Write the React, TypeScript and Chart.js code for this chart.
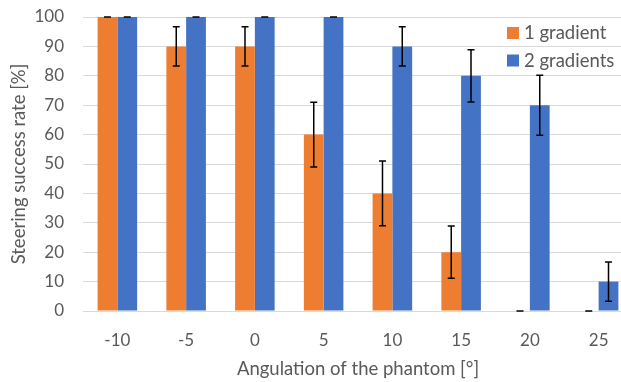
import React, { useEffect, useRef } from "react";
import { Chart, registerables } from "chart.js";

Chart.register(...registerables);

const categories = ["-10", "-5", "0", "5", "10", "15", "20", "25"];
const seriesNames = ["1 gradient", "2 gradients"];
const oneGradient = [100, 90, 90, 60, 40, 20, 0, 0];
const oneGradientErr = [0, 6.7, 6.7, 11, 11, 8.9, 0, 0];
const twoGradients = [100, 100, 100, 100, 90, 80, 70, 10];
const twoGradientsErr = [0, 0, 0, 0, 6.7, 8.9, 10.2, 6.7];
const yMin = 0;
const yMax = 100;
const yStep = 10;

const ORANGE = "#ED7D31";
const BLUE = "#4472C4";
const TEXT = "#595959";
const GRID = "#d9d9d9";
const FONT = "Lato, 'Open Sans', sans-serif";
const FONT_SIZE = 17;
const TITLE_SIZE = 18.5;

const errorBarPlugin = {
  id: "errorBars",
  afterDatasetsDraw(chart: any) {
    const ctx = chart.ctx;
    const yScale = chart.scales.y;
    ctx.save();
    ctx.strokeStyle = "#000000";
    ctx.lineWidth = 1.5;
    chart.data.datasets.forEach((ds: any, di: number) => {
      const meta = chart.getDatasetMeta(di);
      const errs: number[] = ds.errors || [];
      meta.data.forEach((bar: any, i: number) => {
        const v = ds.data[i];
        const e = errs[i] ?? 0;
        const x = bar.x;
        const yTop = yScale.getPixelForValue(v + e);
        const yBot = yScale.getPixelForValue(v - e);
        const cap = 3.5;
        ctx.beginPath();
        ctx.moveTo(x, yTop);
        ctx.lineTo(x, yBot);
        ctx.moveTo(x - cap, yTop);
        ctx.lineTo(x + cap, yTop);
        ctx.moveTo(x - cap, yBot);
        ctx.lineTo(x + cap, yBot);
        ctx.stroke();
      });
    });
    ctx.restore();
  },
};

const legendPlugin = {
  id: "insideLegend",
  afterDraw(chart: any) {
    const ctx = chart.ctx;
    const area = chart.chartArea;
    ctx.save();
    ctx.font = `${TITLE_SIZE}px ${FONT}`;
    ctx.textBaseline = "middle";
    ctx.textAlign = "left";
    chart.data.datasets.forEach((ds: any, i: number) => {
      const sx = area.left + 424;
      const sy = area.top + 10 + i * 27.5;
      ctx.fillStyle = ds.backgroundColor;
      ctx.fillRect(sx, sy, 12, 12);
      ctx.fillStyle = TEXT;
      ctx.fillText(ds.label, sx + 17, sy + 6.5);
    });
    ctx.restore();
  },
};

export default function App() {
  const canvasRef = useRef<HTMLCanvasElement | null>(null);

  useEffect(() => {
    if (!canvasRef.current) return;
    const chart = new Chart(canvasRef.current, {
      type: "bar",
      data: {
        labels: categories,
        datasets: [
          {
            label: seriesNames[0],
            data: oneGradient,
            errors: oneGradientErr,
            backgroundColor: ORANGE,
            borderWidth: 0,
            categoryPercentage: 0.575,
            barPercentage: 1,
          } as any,
          {
            label: seriesNames[1],
            data: twoGradients,
            errors: twoGradientsErr,
            backgroundColor: BLUE,
            borderWidth: 0,
            categoryPercentage: 0.575,
            barPercentage: 1,
          } as any,
        ],
      },
      options: {
        responsive: false,
        animation: false,
        layout: { padding: { top: 17, left: 0, right: 0, bottom: 0 } },
        plugins: {
          legend: { display: false },
          tooltip: { enabled: false },
        },
        scales: {
          x: {
            grid: { display: false, drawTicks: false },
            border: { display: false },
            ticks: {
              color: TEXT,
              font: { family: FONT, size: FONT_SIZE },
              padding: 19,
            },
            title: {
              display: true,
              text: "Angulation of the phantom [°]",
              color: TEXT,
              font: { family: FONT, size: TITLE_SIZE },
              padding: { top: 0, bottom: 2 },
            },
            afterFit(scale: any) {
              scale.height = 71;
            },
          },
          y: {
            min: yMin,
            max: yMax,
            grid: { color: GRID, lineWidth: 1, drawTicks: false },
            border: { display: false },
            ticks: {
              stepSize: yStep,
              color: TEXT,
              font: { family: FONT, size: FONT_SIZE },
              padding: 19,
            },
            title: {
              display: true,
              text: "Steering success rate [%]",
              color: TEXT,
              font: { family: FONT, size: TITLE_SIZE },
              padding: { top: 7.5, bottom: 0 },
            },
            afterFit(scale: any) {
              scale.width = 83;
              scale.paddingTop = 0;
              scale.paddingBottom = 0;
            },
          },
        },
      },
      plugins: [errorBarPlugin, legendPlugin],
    });
    return () => chart.destroy();
  }, []);

  return (
    <div
      style={{
        position: "fixed",
        left: 0,
        top: 0,
        width: 633,
        height: 382,
        background: "#ffffff",
      }}
    >
      <canvas ref={canvasRef} width={633} height={382} style={{ width: 633, height: 382 }} />
    </div>
  );
}
